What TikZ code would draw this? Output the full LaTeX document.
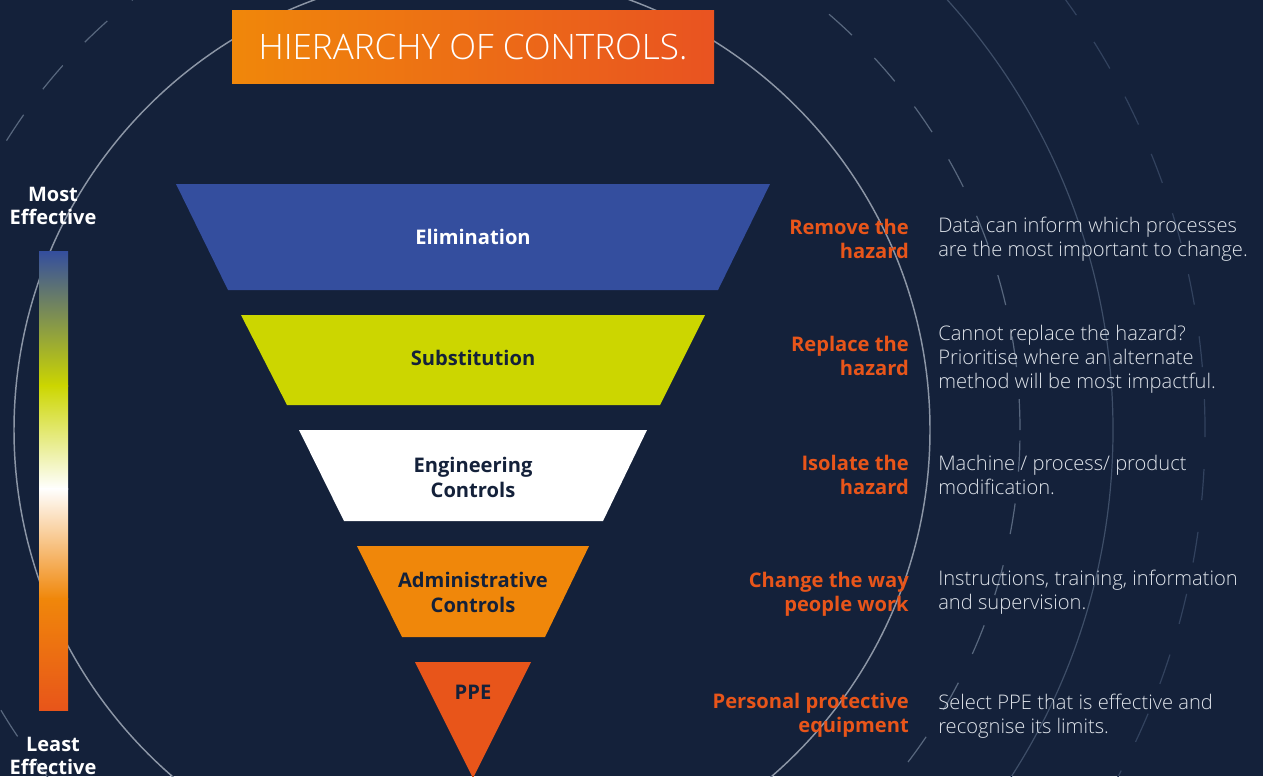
\documentclass[tikz,border=0pt]{standalone}
\usepackage{fontspec}
\setmainfont{Open Sans}
\IfFontExistsTF{Open Sans Light}{\newfontfamily\lightfont{Open Sans Light}}{\newfontfamily\lightfont{Open Sans}}
\definecolor{bg}{RGB}{20,33,58}
\definecolor{effblue}{RGB}{52,78,158}
\definecolor{lime}{RGB}{204,214,0}
\definecolor{orng}{RGB}{240,135,10}
\definecolor{redor}{RGB}{232,85,26}
\definecolor{titler}{RGB}{233,83,33}
\definecolor{desc}{RGB}{222,227,234}
\definecolor{ringA}{RGB}{140,150,166}
\definecolor{ringB}{RGB}{88,103,126}
\definecolor{ringC}{RGB}{62,78,104}
\definecolor{ringD}{RGB}{50,66,94}
\begin{document}
\begin{tikzpicture}[x=0.75pt,y=-0.75pt,
  lvl/.style={font=\bfseries\fontsize{15.1}{18.75}\selectfont, align=center, inner sep=0pt, text=bg},
  act/.style={font=\bfseries\fontsize{15.1}{18}\selectfont, text=redor, align=right, anchor=east, inner sep=0pt},
  desc/.style={font=\lightfont\fontsize{15.1}{18}\selectfont, text=desc, align=left, anchor=west, inner sep=0pt},
  scale label/.style={font=\bfseries\fontsize{15}{17.25}\selectfont, text=white, align=center, inner sep=0pt},
  dashring/.style={dash pattern=on 23.25pt off 24pt}]
\fill[bg] (0,0) rectangle (1263,776);
\useasboundingbox (0,0) rectangle (1263,776);
\begin{scope}
\clip (0,0) rectangle (1263,776);
\coordinate (ctr) at (472,430);
\draw[ringA, line width=1.1pt] (ctr) circle[radius=343.5pt];
\draw[ringB, line width=0.9pt, dashring] (ctr) circle[radius=411pt];
\draw[ringC, line width=0.9pt] (ctr) circle[radius=480.75pt];
\draw[ringD, line width=0.9pt, dashring] (ctr) circle[radius=549.75pt];
\end{scope}
% title
\shade[left color=orng, right color=titler] (232,10) rectangle (714,83);
\node[text=white, inner sep=0pt] (title) at (473,47) {\lightfont\fontsize{26.3}{30}\selectfont HIERARCHY OF CONTROLS.};
% effectiveness bar
\shade[top color=effblue, bottom color=lime] (39,251) rectangle (68,386);
\shade[top color=lime, bottom color=white] (39,385) rectangle (68,489);
\shade[top color=white, bottom color=orng] (39,488) rectangle (68,599);
\shade[top color=orng, bottom color=redor] (39,598) rectangle (68,710);
\node[scale label] (most) at (53,206) {Most\\Effective};
\node[scale label] (least) at (53,756) {Least\\Effective};
% funnel
\fill[effblue] (176,184) -- (770,184) -- (718,290) -- (228,290) -- cycle;
\fill[lime] (241,315) -- (705,315) -- (660,405) -- (287,405) -- cycle;
\fill[white] (299,430) -- (647,430) -- (603,521) -- (344,521) -- cycle;
\fill[orng] (357,546) -- (589,546) -- (545,637) -- (402,637) -- cycle;
\fill[redor] (415,662) -- (531,662) -- (473,778) -- cycle;
\node[lvl, text=white] (elim) at (473,237) {Elimination};
\node[lvl] (subst) at (473,358) {Substitution};
\node[lvl] (eng) at (473,477) {Engineering\\Controls};
\node[lvl] (adm) at (473,592) {Administrative\\Controls};
\node[lvl] (ppe) at (473,692) {PPE};
% actions
\node[act] (a1) at (909,239) {Remove the\\hazard};
\node[act] (a2) at (909,356) {Replace the\\hazard};
\node[act] (a3) at (909,475) {Isolate the\\hazard};
\node[act] (a4) at (909,594) {Change the way\\people work};
\node[act] (a5) at (909,715) {Personal protective\\equipment};
% descriptions
\node[desc] (d1) at (938,239) {Data can inform which processes\\are the most important to change.};
\node[desc] (d2) at (938,359) {Cannot replace the hazard?\\Prioritise where an alternate\\method will be most impactful.};
\node[desc] (d3) at (938,475) {Machine / process/ product\\modification.};
\node[desc] (d4) at (938,592) {Instructions, training, information\\and supervision.};
\node[desc] (d5) at (938,716) {Select PPE that is effective and\\recognise its limits.};
\end{tikzpicture}
\end{document}
